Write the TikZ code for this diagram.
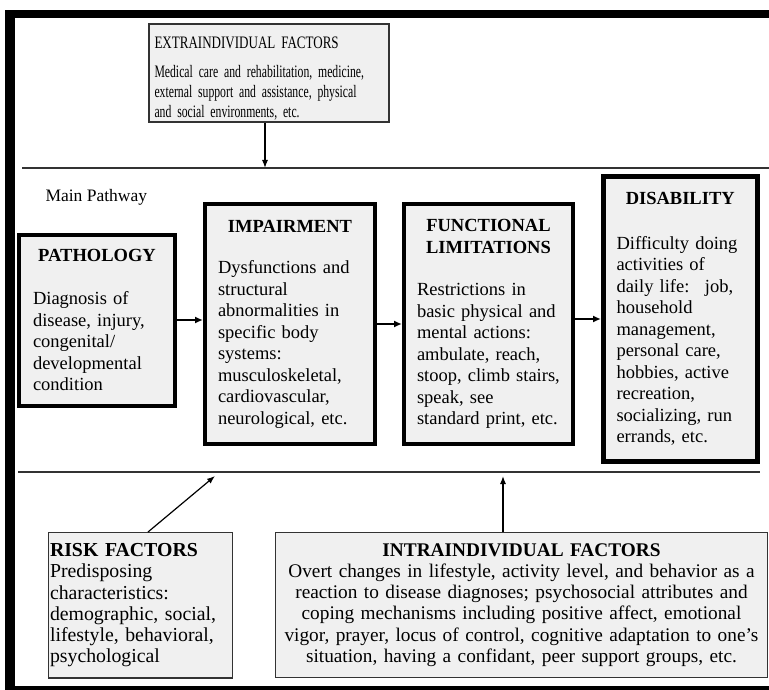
\documentclass[tikz,border=0pt]{standalone}
\usepackage{fontspec}
\setmainfont{Liberation Serif}
\newfontfamily\narrowserif[FakeStretch=0.67]{Liberation Serif}
\newfontfamily\narrowhead[FakeStretch=0.745]{Liberation Serif}
\usetikzlibrary{arrows.meta, positioning}

% centred bold heading on top of a pathway box
\newcommand{\boxhead}[2]{{\centering\bfseries #1\par}\vspace{#2}}

\begin{document}
\begin{tikzpicture}[
    x=1pt, y=-1pt,
    % main pathway stages - heavy black frame
    pathbox/.style={
        rectangle, draw=black, line width=4pt, fill=black!6,
        align=left, inner ysep=4pt,
        font=\fontsize{18.5}{21.5}\selectfont
    },
    % influencing factors - thin frame
    factorbox/.style={
        rectangle, draw=black!80, line width=1.2pt, fill=black!6,
        inner ysep=11pt, font=\fontsize{19.8}{21.2}\selectfont
    },
    arrow/.style={-{Latex[length=8pt, width=7pt]}, line width=2.5pt},
    thinarrow/.style={-{Latex[length=8pt, width=6pt]}, line width=1.2pt},
    rule/.style={line width=1.2pt, black!80},
]
\useasboundingbox (0,0) rectangle (769,690);

% Extraindividual factors - top
\node[factorbox, align=left, inner xsep=5.5pt, inner ysep=2pt,
      text width=229pt, minimum height=98pt,
      font=\narrowserif\fontsize{17.5}{20}\selectfont] (extra) at (269,73)
    {\rule{0pt}{22pt}{\narrowhead EXTRAINDIVIDUAL FACTORS}\\[9pt]
     Medical care and rehabilitation, medicine,\\
     external support and assistance, physical\\
     and social environments, etc.};

\coordinate (topleft) at (22,168);
\coordinate (topright) at (769,168);
\draw[rule] (topleft) -- (topright);
\draw[thinarrow] ([xshift=-4pt]extra.south) -- ([xshift=-4pt]extra.south |- topleft);

\node[anchor=base west, font=\fontsize{17.5}{20}\selectfont] (mainpath) at (42,202) {Main Pathway};

% Main pathway - one row
\node[pathbox, text width=128pt, inner xsep=14pt, minimum height=171pt] (pathology) at (97,320)
    {\boxhead{PATHOLOGY}{22pt}Diagnosis of\\disease, injury,\\congenital/\\developmental\\condition};
\node[pathbox, text width=144pt, inner xsep=13pt, minimum height=240pt, right=26pt of pathology, yshift=-4pt] (impairment)
    {\boxhead{IMPAIRMENT}{20pt}Dysfunctions and\\structural\\abnormalities in\\specific body\\systems:\\musculoskeletal,\\cardiovascular,\\neurological, etc.};
\node[pathbox, text width=143pt, inner xsep=13pt, minimum height=240pt, right=25pt of impairment] (funclim)
    {\boxhead{FUNCTIONAL\\LIMITATIONS}{21pt}Restrictions in\\basic physical and\\mental actions:\\ambulate, reach,\\stoop, climb stairs,\\speak, see\\standard print, etc.};
\node[pathbox, line width=5pt, text width=127.5pt, inner xsep=13pt, minimum height=284pt,
      right=26pt of funclim, yshift=5pt] (disability)
    {\boxhead{DISABILITY}{23pt}Difficulty doing\\activities of\\daily life:~ job,\\household\\management,\\personal care,\\hobbies, active\\recreation,\\socializing, run\\errands, etc.};

\draw[arrow] (pathology.east) -- (pathology.east -| impairment.west);
\draw[arrow] (impairment) -- (funclim);
\draw[arrow] (funclim.east |- disability.west) -- (disability.west);

\coordinate (lowleft) at (18,472);
\coordinate (lowright) at (760,472);
\draw[rule] (lowleft) -- (lowright);

% Risk and intraindividual factors - bottom
\node[factorbox, anchor=north, align=left, text width=181pt, inner xsep=1.5pt] (risk) at (140.5,532)
    {\textbf{RISK FACTORS}\\Predisposing\\characteristics:\\demographic, social,\\lifestyle, behavioral,\\psychological\par\vspace{10pt}};
\node[factorbox, anchor=north, align=center, text width=480pt, inner xsep=6pt,
      font=\fontsize{19.3}{21.2}\selectfont] (intra) at (521.5,532)
    {\textbf{INTRAINDIVIDUAL FACTORS}\\
     Overt changes in lifestyle, activity level, and behavior as a\\
     reaction to disease diagnoses; psychosocial attributes and\\
     coping mechanisms including positive affect, emotional\\
     vigor, prayer, locus of control, cognitive adaptation to one's\\
     situation, having a confidant, peer support groups, etc.\par\vspace{10pt}};

\coordinate (riskhit) at (215,476);
\draw[thinarrow] ([xshift=7.5pt]risk.north) -- (riskhit);
\draw[thinarrow] ([xshift=-18.5pt]intra.north) -- ([xshift=-18.5pt]intra.north |- riskhit);

% Outer frame
\fill (5,10) rectangle (15,690);
\fill (5,10) rectangle (769,18);
\fill (5,686) rectangle (769,690);

\end{tikzpicture}
\end{document}
